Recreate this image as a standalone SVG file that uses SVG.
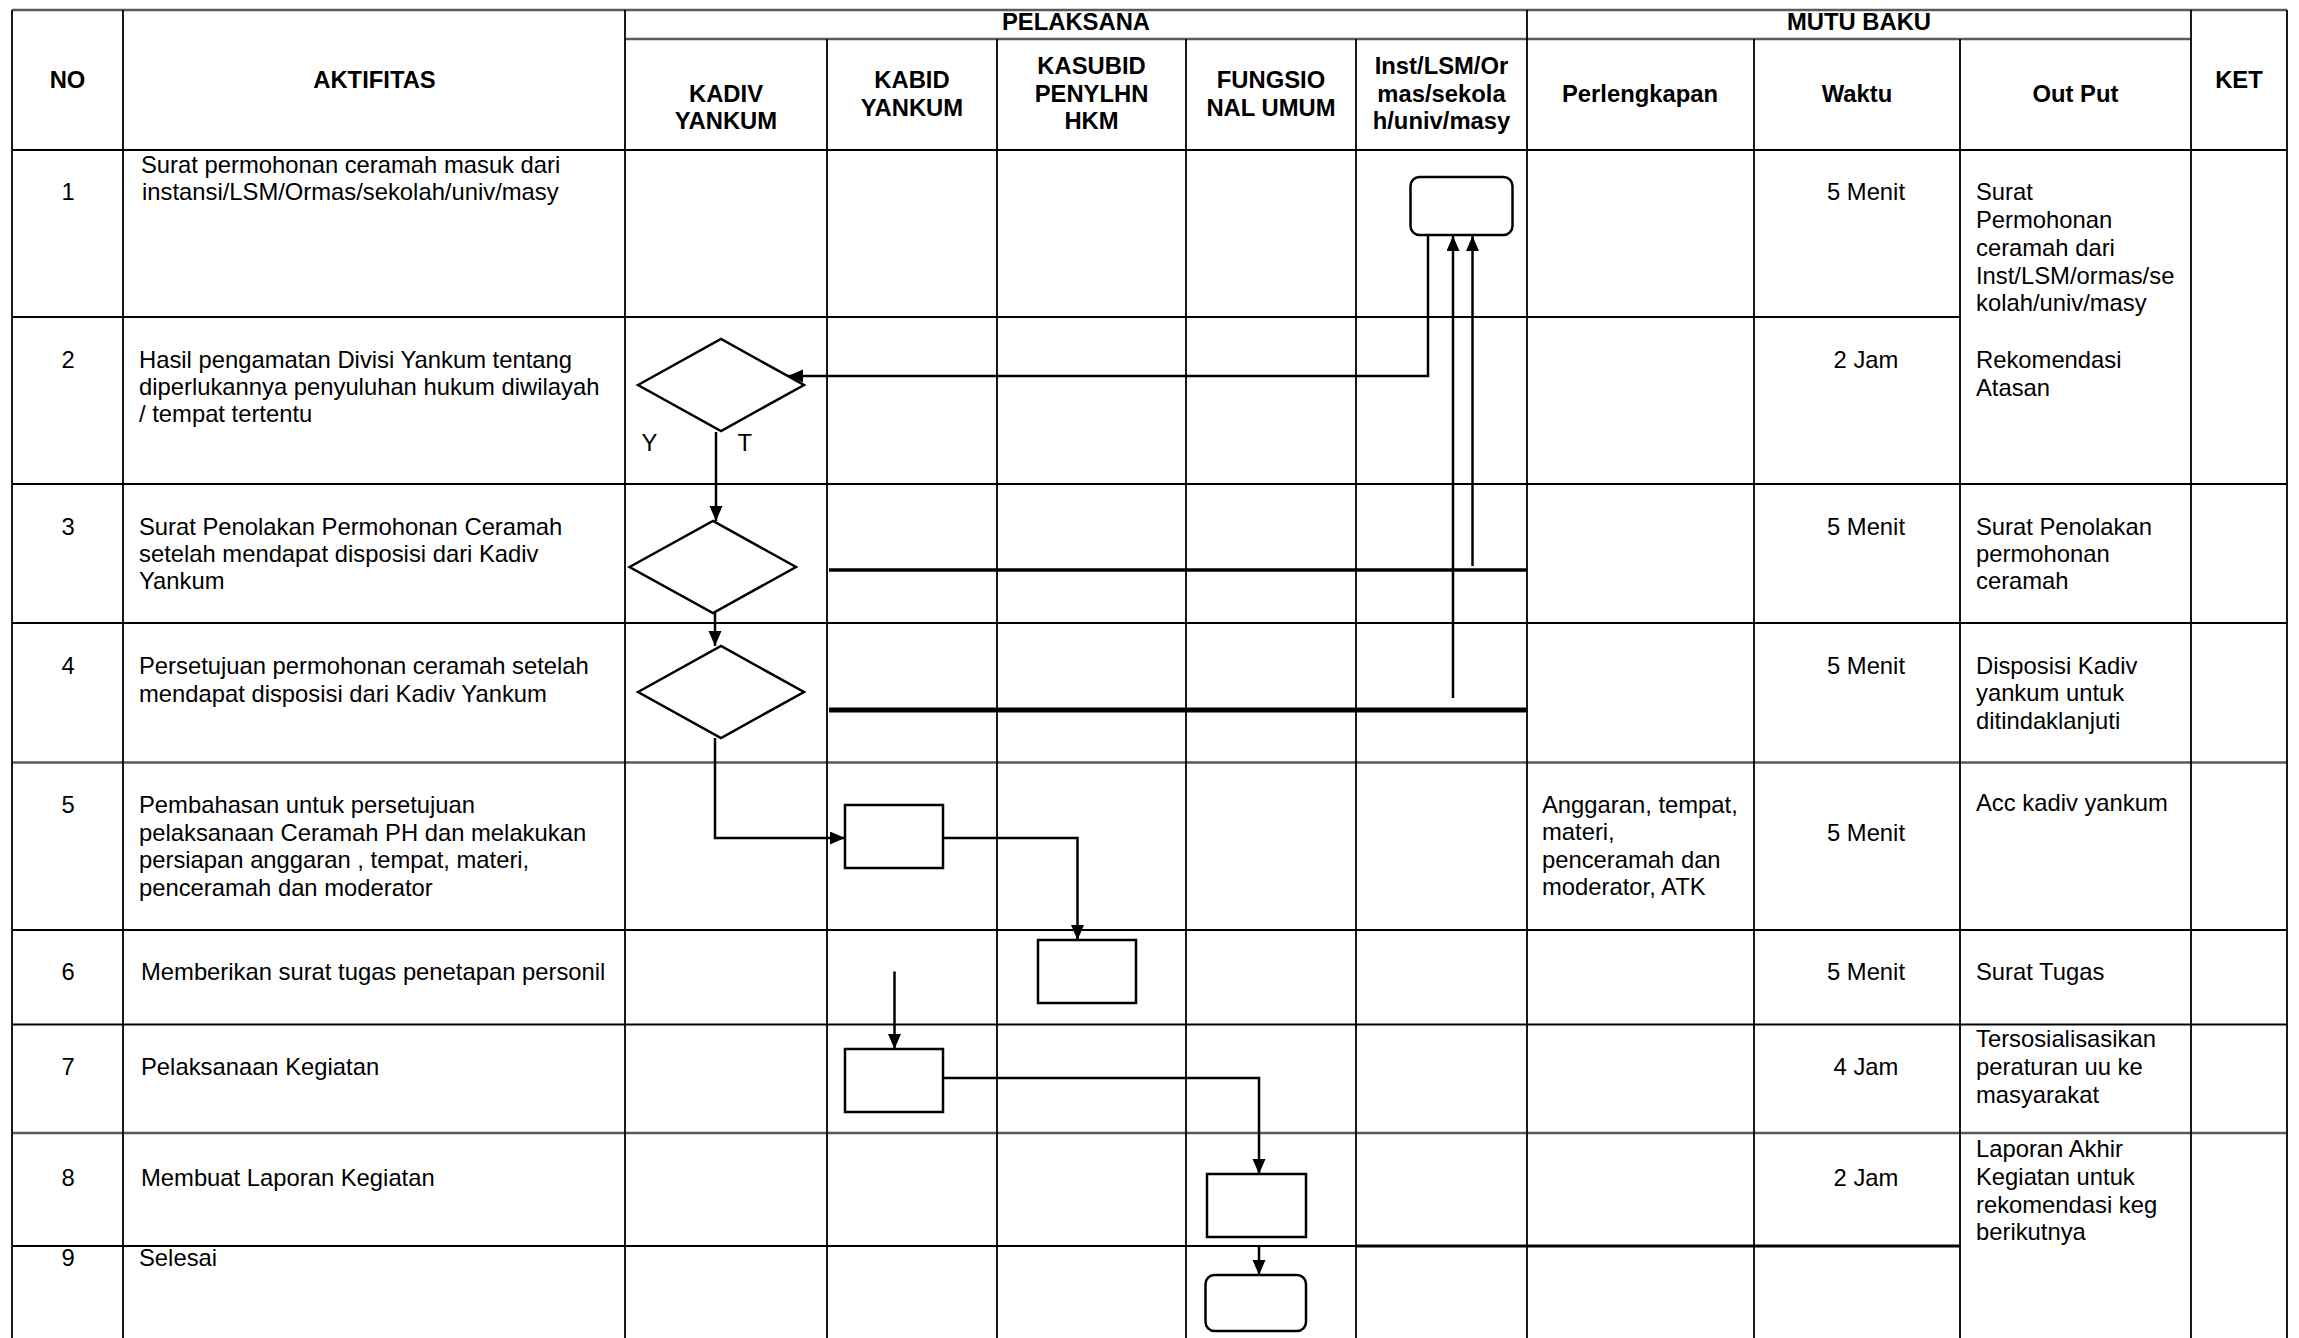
<svg xmlns="http://www.w3.org/2000/svg" width="2299" height="1338" viewBox="0 0 2299 1338">
<style>
text{font-family:"Liberation Sans",Arial,sans-serif;font-size:23.8px;fill:#000}
.h{font-weight:bold;text-anchor:middle}
.c{text-anchor:middle}
.g{stroke:#000;stroke-width:1.8;fill:none}
.g2{stroke:#5a5a5a;stroke-width:2.4;fill:none}
.n{fill:#fff;stroke:#000;stroke-width:2.5}
.k{fill:none;stroke:#000;stroke-width:2.5}
</style>
<defs>
<marker id="ah" markerUnits="userSpaceOnUse" markerWidth="16" markerHeight="14" refX="15" refY="6.5" orient="auto">
<path d="M0,0 L15,6.5 L0,13 z" fill="#000"/>
</marker>
</defs>
<rect width="2299" height="1338" fill="#fff"/>
<g id="grid">
<path class="g2" d="M12,10 H2287 M625,39 H2191"/>
<path class="g" d="M12,150 H2287 M12,317 H1960 M12,484 H2287 M12,623 H2287 M12,930 H2287 M12,1024.5 H2287 M12,1246 H1356"/>
<path class="g2" d="M12,762.5 H2287 M12,1133 H2287"/>
<path d="M1356,1246 H1960" stroke="#000" stroke-width="3" fill="none"/>
<path class="g" d="M12,10 V1338 M123,10 V1338 M625,10 V1338 M827,39 V1338 M997,39 V1338 M1186,39 V1338 M1356,39 V1338 M1527,10 V1338 M1754,39 V1338 M1960,39 V1338 M2191,10 V1338 M2287,10 V1338"/>
</g>
<g id="header">
<text class="h" x="67.5" y="88">NO</text>
<text class="h" x="374.5" y="88">AKTIFITAS</text>
<text class="h" x="1076" y="30">PELAKSANA</text>
<text class="h" x="1859" y="30">MUTU BAKU</text>
<text class="h" x="726"><tspan x="726" y="102">KADIV</tspan><tspan x="726" y="129">YANKUM</tspan></text>
<text class="h" x="912"><tspan x="912" y="88">KABID</tspan><tspan x="912" y="115.5">YANKUM</tspan></text>
<text class="h" x="1091.5"><tspan x="1091.5" y="74">KASUBID</tspan><tspan x="1091.5" y="101.5">PENYLHN</tspan><tspan x="1091.5" y="129">HKM</tspan></text>
<text class="h" x="1271"><tspan x="1271" y="88">FUNGSIO</tspan><tspan x="1271" y="115.5">NAL UMUM</tspan></text>
<text class="h" x="1441.5"><tspan x="1441.5" y="74">Inst/LSM/Or</tspan><tspan x="1441.5" y="101.5">mas/sekola</tspan><tspan x="1441.5" y="129">h/univ/masy</tspan></text>
<text class="h" x="1640" y="101.5">Perlengkapan</text>
<text class="h" x="1857" y="101.5">Waktu</text>
<text class="h" x="2075.5" y="101.5">Out Put</text>
<text class="h" x="2239" y="88">KET</text>
</g>
<g id="numbers">
<text class="c" x="68" y="200">1</text>
<text class="c" x="68" y="368">2</text>
<text class="c" x="68" y="535">3</text>
<text class="c" x="68" y="674">4</text>
<text class="c" x="68" y="813">5</text>
<text class="c" x="68" y="979.5">6</text>
<text class="c" x="68" y="1075">7</text>
<text class="c" x="68" y="1185.5">8</text>
<text class="c" x="68" y="1265.5">9</text>
</g>
<g id="activities">
<text><tspan x="141" y="173.3">Surat permohonan ceramah masuk dari</tspan><tspan x="142" y="200">instansi/LSM/Ormas/sekolah/univ/masy</tspan></text>
<text><tspan x="139" y="368.3">Hasil pengamatan Divisi Yankum tentang</tspan><tspan x="139" y="395">diperlukannya penyuluhan hukum diwilayah</tspan><tspan x="139" y="421.7">/ tempat tertentu</tspan></text>
<text><tspan x="139" y="535">Surat Penolakan Permohonan Ceramah</tspan><tspan x="139" y="561.7">setelah mendapat disposisi dari Kadiv</tspan><tspan x="139" y="589">Yankum</tspan></text>
<text><tspan x="139" y="674.3">Persetujuan permohonan ceramah setelah</tspan><tspan x="139" y="701.7">mendapat disposisi dari Kadiv Yankum</tspan></text>
<text><tspan x="139" y="813">Pembahasan untuk persetujuan</tspan><tspan x="139" y="840.5">pelaksanaan Ceramah PH dan melakukan</tspan><tspan x="139" y="868">persiapan anggaran , tempat, materi,</tspan><tspan x="139" y="895.5">penceramah dan moderator</tspan></text>
<text x="141" y="979.5">Memberikan surat tugas penetapan personil</text>
<text x="141" y="1075">Pelaksanaan Kegiatan</text>
<text x="141" y="1185.5">Membuat Laporan Kegiatan</text>
<text x="139" y="1265.5">Selesai</text>
</g>
<g id="perlengkapan">
<text><tspan x="1542" y="812.5">Anggaran, tempat,</tspan><tspan x="1542" y="840">materi,</tspan><tspan x="1542" y="867.5">penceramah dan</tspan><tspan x="1542" y="895">moderator, ATK</tspan></text>
</g>
<g id="waktu">
<text class="c" x="1866" y="200">5 Menit</text>
<text class="c" x="1866" y="368.3">2 Jam</text>
<text class="c" x="1866" y="535">5 Menit</text>
<text class="c" x="1866" y="673.5">5 Menit</text>
<text class="c" x="1866" y="841">5 Menit</text>
<text class="c" x="1866" y="979.5">5 Menit</text>
<text class="c" x="1866" y="1075">4 Jam</text>
<text class="c" x="1866" y="1185.5">2 Jam</text>
</g>
<g id="output">
<text><tspan x="1976" y="200">Surat</tspan><tspan x="1976" y="228">Permohonan</tspan><tspan x="1976" y="255.8">ceramah dari</tspan><tspan x="1976" y="283.5">Inst/LSM/ormas/se</tspan><tspan x="1976" y="311">kolah/univ/masy</tspan></text>
<text><tspan x="1976" y="368.3">Rekomendasi</tspan><tspan x="1976" y="395.5">Atasan</tspan></text>
<text><tspan x="1976" y="535">Surat Penolakan</tspan><tspan x="1976" y="562">permohonan</tspan><tspan x="1976" y="589">ceramah</tspan></text>
<text><tspan x="1976" y="673.5">Disposisi Kadiv</tspan><tspan x="1976" y="701">yankum untuk</tspan><tspan x="1976" y="728.5">ditindaklanjuti</tspan></text>
<text x="1976" y="810.5">Acc kadiv yankum</text>
<text x="1976" y="979.5">Surat Tugas</text>
<text><tspan x="1976" y="1047">Tersosialisasikan</tspan><tspan x="1976" y="1075">peraturan uu ke</tspan><tspan x="1976" y="1102.5">masyarakat</tspan></text>
<text><tspan x="1976" y="1157">Laporan Akhir</tspan><tspan x="1976" y="1185">Kegiatan untuk</tspan><tspan x="1976" y="1212.5">rekomendasi keg</tspan><tspan x="1976" y="1240">berikutnya</tspan></text>
</g>
<g id="node-start"><rect class="n" x="1410.5" y="177" width="102" height="58" rx="9"/></g>
<g id="node-decision-2"><polygon class="n" points="638,385 721,339 804,385 721,431"/></g>
<g id="node-decision-3"><polygon class="n" points="629.5,567 713,521 796,567 713,613"/></g>
<g id="node-decision-4"><polygon class="n" points="638,692 721,646 804,692 721,738"/></g>
<g id="node-process-5"><rect class="n" x="845" y="805" width="98" height="63"/></g>
<g id="node-process-6"><rect class="n" x="1038" y="940" width="98" height="63"/></g>
<g id="node-process-7"><rect class="n" x="845" y="1049" width="98" height="63"/></g>
<g id="node-process-8"><rect class="n" x="1207" y="1174" width="99" height="63"/></g>
<g id="node-end"><rect class="n" x="1205.5" y="1275" width="100.5" height="56" rx="9"/></g>
<g id="connectors">
<path class="k" d="M1428,235 V376 H788" marker-end="url(#ah)"/>
<path class="k" d="M716,432 V521" marker-end="url(#ah)"/>
<path class="k" d="M715,613 V646" marker-end="url(#ah)"/>
<path class="k" d="M715,738 V838 H845" marker-end="url(#ah)"/>
<path class="k" d="M943,838 H1077.5 V940" marker-end="url(#ah)"/>
<path class="k" d="M894.5,971.5 V1049" marker-end="url(#ah)"/>
<path class="k" d="M943,1078 H1259 V1174" marker-end="url(#ah)"/>
<path class="k" d="M1259,1246 V1275" marker-end="url(#ah)"/>
<path class="k" d="M1453,698 V236" marker-end="url(#ah)"/>
<path class="k" d="M1472.5,566 V236" marker-end="url(#ah)"/>
<path d="M829,570 H1527" stroke="#000" stroke-width="3.5" fill="none"/>
<path d="M829,710 H1527" stroke="#000" stroke-width="5" fill="none"/>
<text x="641.5" y="451">Y</text>
<text x="737.5" y="451">T</text>
</g>
</svg>
